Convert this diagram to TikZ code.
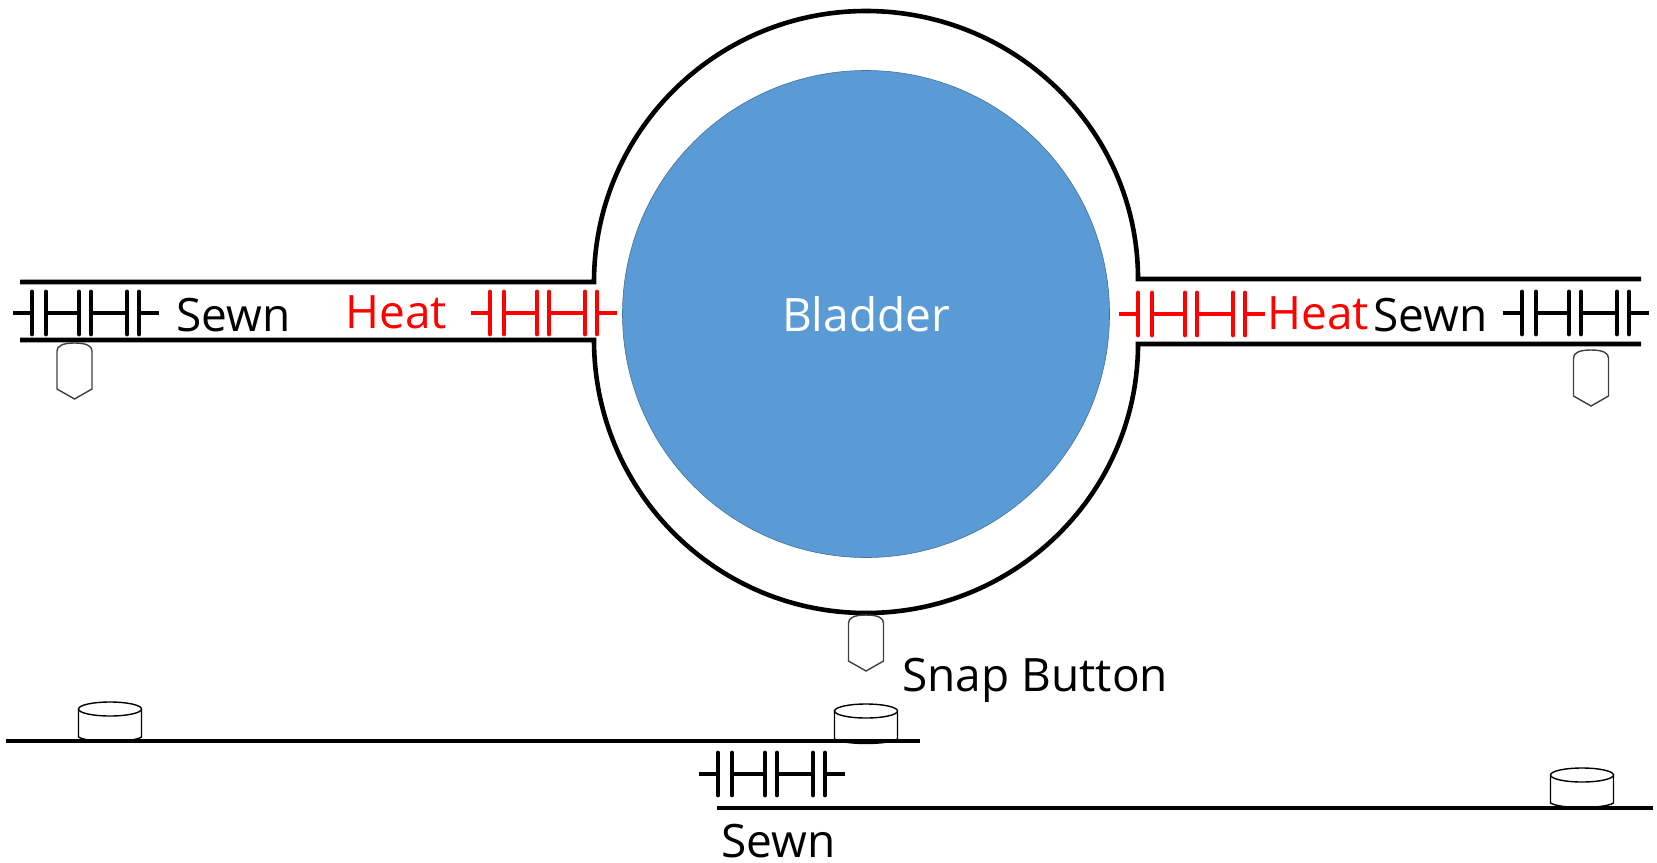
\documentclass[tikz,border=0pt]{standalone}
\usepackage{fontspec}
\setmainfont{Open Sans}
\usetikzlibrary{positioning, calc}
\definecolor{bladderFill}{HTML}{5B9BD5}
\definecolor{bladderEdge}{HTML}{41719C}
\definecolor{heatRed}{HTML}{FF0000}
\definecolor{pinEdge}{HTML}{404040}
\tikzset{
    Strap/.style = {line width=2.3pt, draw=black},
    Label/.style = {anchor=base west, inner sep=0pt, font=\fontsize{23}{28}\selectfont},
    Stitch/.pic = {
        \draw[pic actions, line width=1.6pt] (0,0) -- (19,0);
        \draw[pic actions, line width=1.6pt] (33,0) -- (66,0);
        \draw[pic actions, line width=1.6pt] (78,0) -- (114,0);
        \draw[pic actions, line width=1.6pt] (126,0) -- (146,0);
        \foreach \barx in {19,33,66,78,114,126}
            \draw[pic actions, line width=2.4pt, line cap=round] (\barx,-21) -- (\barx,21);
    },
    Pin/.pic = {
        \draw[draw=pinEdge, line width=0.7pt] (0,56) -- (-17.5,46) -- (-17.5,8)
            .. controls (-17.5,3) and (-12,0) .. (0,0)
            .. controls (12,0) and (17.5,3) .. (17.5,8) -- (17.5,46) -- cycle;
    },
    Button/.pic = {
        \draw[line width=0.7pt] (0,0) ellipse [x radius=31.5, y radius=7];
        \draw[line width=0.7pt] (-31.5,0) -- (-31.5,28)
            .. controls (-22,34) and (22,34) .. (31.5,28) -- (31.5,0);
    }
}

\begin{document}
\begin{tikzpicture}[x=0.5pt, y=-0.5pt]
    \useasboundingbox (0,0) rectangle (1657,862);
    % bladder
    \node [circle, fill=bladderFill, draw=bladderEdge, line width=0.3pt, minimum size=243.5pt, inner sep=0pt,
        text=white, font=\fontsize{23}{28}\selectfont] (bladder) at (866,314) {Bladder};
    % casing and straps
    \draw [Strap] (20,282) -- (594,282)
        arc [start angle=180, end angle=270, x radius=272, y radius=271]
        arc [start angle=270, end angle=360, x radius=272, y radius=268] -- (1641,279);
    \draw [Strap] (20,340) -- (594,340)
        arc [start angle=180, end angle=90, x radius=272, y radius=273]
        arc [start angle=90, end angle=0, x radius=272, y radius=269] -- (1641,344);
    % lower flaps
    \pic at (110,709) {Button};
    \pic at (866,711) {Button};
    \pic at (1582,775) {Button};
    \draw [Strap] (6,741) -- (920,741);
    \draw [Strap] (717,808) -- (1653,808);
    % snap pins
    \pic at (74.5,343) {Pin};
    \pic at (1591,350) {Pin};
    \pic at (866,615) {Pin};
    % seams
    \pic at (13,313) {Stitch};
    \pic [color=heatRed] at (471,313) {Stitch};
    \pic [color=heatRed] at (1119,314) {Stitch};
    \pic at (1503,313) {Stitch};
    \pic at (699,774) {Stitch};
    % labels
    \node [Label] (sewnL) at (176,331) {Sewn};
    \node [Label, text=heatRed] (heatL) at (345,328) {Heat};
    \node [Label, text=heatRed] (heatR) at (1267,329) {Heat};
    \node [Label] (sewnR) at (1373,331) {Sewn};
    \node [Label] (snap) at (902,691) {Snap Button};
    \node [Label] (sewnB) at (721,857) {Sewn};
\end{tikzpicture}
\end{document}
